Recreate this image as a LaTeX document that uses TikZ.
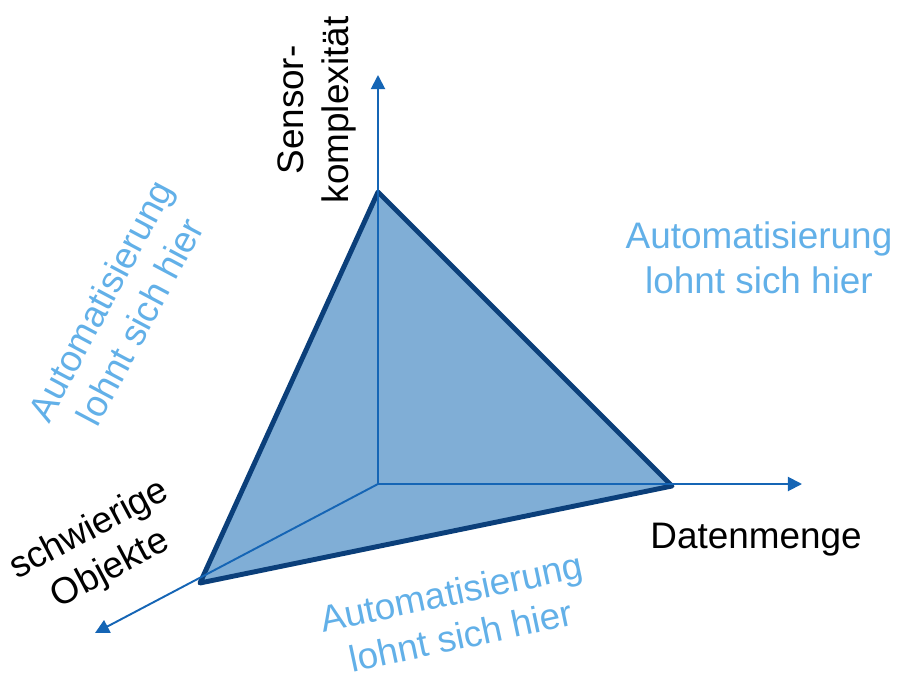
\documentclass[tikz,border=0pt]{standalone}
\usepackage{fontspec}
\setmainfont{Liberation Sans}
\usepackage{xcolor}
\usetikzlibrary{arrows.meta}
\usetikzlibrary{positioning}

\definecolor{axisblue}{HTML}{1565B5}
\definecolor{edgeblue}{HTML}{0B3F7A}
\definecolor{faceblue}{HTML}{80AED6}
\definecolor{hintblue}{HTML}{62B0E8}

\begin{document}
\begin{tikzpicture}[x=0.02cm, y=-0.02cm,
    axis/.style={draw=axisblue, line width=1.1pt, -{Triangle[length=8pt,width=8pt]}},
    edge/.style={draw=edgeblue, line width=2.8pt, line join=round},
    lbl/.style={font=\fontsize{21}{25.5}\selectfont, align=center, inner sep=0pt},
    hint/.style={lbl, text=hintblue}]
    \useasboundingbox (0,0) rectangle (897,680);
    % corners of the pyramid
    \coordinate (o) at (378,484);
    \coordinate (t) at (378,192);
    \coordinate (r) at (672,486);
    \coordinate (b) at (200,583);
    % axis ends
    \coordinate (up) at (378,75);
    \coordinate (right) at (802,484);
    \coordinate (down) at (95,633);

    \fill[faceblue] (t) -- (r) -- (b) -- cycle;
    \draw[edge] (t) -- (r) -- (b) -- cycle;
    \draw[axis] (o) -- (up);
    \draw[axis] (o) -- (right);
    \draw[axis] (o) -- (down);

    \node[lbl, rotate=90] (sensor) at (317,110) {Sensor-\\komplexit\"at};
    \node[lbl] (daten) at (756,540) {Datenmenge};
    \node[lbl, rotate=28] (objekte) at (100,550) {schwierige\\Objekte};

    \node[hint] (hintright) at (759,258) {Automatisierung\\lohnt sich hier};
    \node[hint, rotate=62] (hintleft) at (120,311) {Automatisierung\\lohnt sich hier};
    \node[hint, rotate=12] (hintbottom) at (456,614) {Automatisierung\\lohnt sich hier};
\end{tikzpicture}
\end{document}
